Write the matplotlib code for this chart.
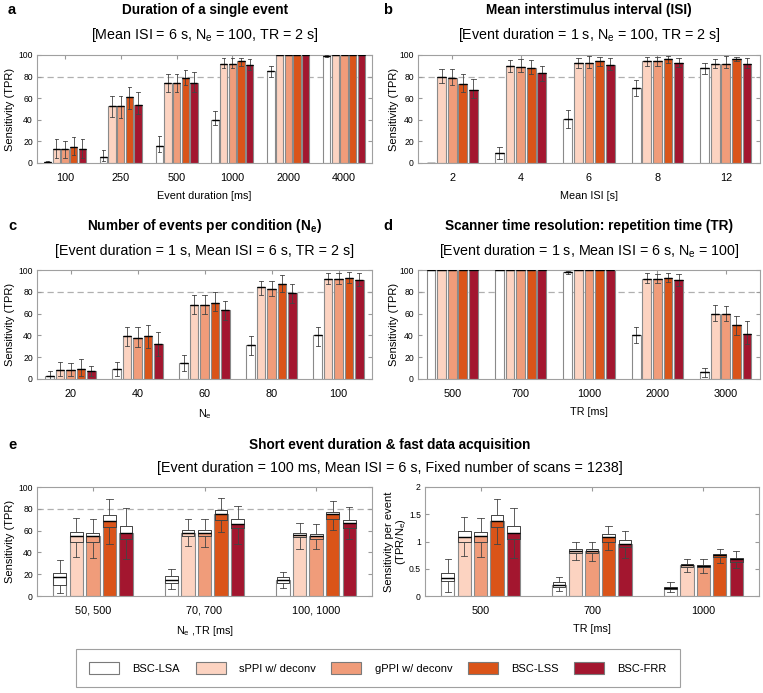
import matplotlib
matplotlib.use('Agg')
import matplotlib.pyplot as plt
from matplotlib.patches import Patch
import numpy as np

plt.rcParams['font.family'] = ['Liberation Sans', 'DejaVu Sans']

methods = ['BSC-LSA', 'sPPI w/ deconv', 'gPPI w/ deconv', 'BSC-LSS', 'BSC-FRR']
colors = ['#ffffff', '#fcd3c1', '#f09c7a', '#da5419', '#a3162f']

# a: event duration
dur_ticks = ['100', '250', '500', '1000', '2000', '4000']
dur_tpr = [[1, 13, 13, 15, 13], [6, 53, 53, 61, 54], [16, 74, 74, 79, 74],
           [40, 92, 92, 94, 91], [85, 100, 100, 100, 100], [99, 100, 100, 100, 100]]
dur_lo = [[0, 5, 5, 7, 5], [2, 43, 42, 50, 45], [10, 66, 66, 72, 66],
          [35, 88, 88, 90, 86], [80, 100, 100, 100, 100], [98, 100, 100, 100, 100]]
dur_hi = [[2, 22, 20, 24, 22], [12, 62, 62, 70, 66], [25, 82, 82, 86, 84],
          [48, 97, 97, 97, 96], [90, 100, 100, 100, 100], [100, 100, 100, 100, 100]]

# b: mean ISI
isi_ticks = ['2', '4', '6', '8', '12']
isi_tpr = [[0, 80, 79, 73, 68], [9, 90, 89, 88, 83], [41, 93, 93, 94, 91],
           [69, 94, 94, 96, 93], [88, 92, 92, 96, 92]]
isi_lo = [[0, 74, 72, 66, 60], [4, 84, 84, 82, 76], [32, 88, 88, 90, 86],
          [62, 90, 90, 93, 89], [82, 88, 88, 94, 88]]
isi_hi = [[0, 87, 87, 82, 78], [15, 95, 96, 95, 90], [49, 97, 99, 98, 97],
          [77, 98, 98, 99, 97], [93, 96, 99, 98, 97]]

# c: number of events
ne_ticks = ['20', '40', '60', '80', '100']
ne_tpr = [[3, 8, 8, 9, 7], [9, 39, 38, 39, 32], [15, 68, 68, 70, 63],
          [31, 84, 83, 87, 79], [40, 92, 92, 93, 91]]
ne_lo = [[0, 3, 3, 3, 3], [3, 30, 29, 28, 21], [7, 60, 60, 62, 54],
         [22, 77, 76, 80, 70], [30, 87, 87, 88, 85]]
ne_hi = [[7, 16, 15, 18, 12], [16, 48, 48, 50, 43], [22, 77, 77, 80, 72],
         [39, 90, 90, 95, 87], [48, 97, 97, 98, 97]]

# d: repetition time
tr_ticks = ['500', '700', '1000', '2000', '3000']
tr_tpr = [[100, 100, 100, 100, 100], [100, 100, 100, 100, 100], [98, 100, 100, 100, 100],
          [40, 92, 92, 93, 91], [6, 60, 60, 50, 41]]
tr_lo = [[100, 100, 100, 100, 100], [100, 100, 100, 100, 100], [96, 100, 100, 100, 100],
         [33, 88, 88, 89, 85], [2, 53, 53, 40, 32]]
tr_hi = [[100, 100, 100, 100, 100], [100, 100, 100, 100, 100], [99, 100, 100, 100, 100],
         [48, 97, 96, 97, 96], [10, 68, 67, 58, 53]]

# e: short events, fast acquisition
fast_ticks = ['50, 500', '70, 700', '100, 1000']
fast_tpr = [[17, 55, 55, 69, 58], [15, 58, 58, 75, 66], [15, 56, 55, 75, 67]]
fast_q1 = [[10, 50, 50, 63, 52], [12, 55, 55, 70, 62], [12, 54, 52, 71, 62]]
fast_q3 = [[21, 59, 58, 74, 64], [18, 61, 61, 79, 71], [17, 58, 57, 77, 70]]
fast_lo = [[3, 36, 35, 48, 34], [6, 46, 45, 59, 48], [7, 43, 43, 61, 52]]
fast_hi = [[33, 72, 71, 89, 81], [25, 71, 71, 90, 83], [22, 67, 66, 87, 82]]

per_ticks = ['500', '700', '1000']
per_tpr = [[0.33, 1.09, 1.10, 1.38, 1.16], [0.21, 0.83, 0.83, 1.08, 0.95],
           [0.15, 0.56, 0.55, 0.75, 0.67]]
per_q1 = [[0.27, 1.00, 1.00, 1.27, 1.05], [0.17, 0.79, 0.79, 1.00, 0.89],
          [0.12, 0.54, 0.53, 0.71, 0.62]]
per_q3 = [[0.42, 1.19, 1.18, 1.48, 1.28], [0.25, 0.87, 0.87, 1.13, 1.02],
          [0.17, 0.58, 0.57, 0.77, 0.70]]
per_lo = [[0.07, 0.73, 0.71, 0.95, 0.69], [0.09, 0.66, 0.65, 0.85, 0.69],
          [0.07, 0.44, 0.43, 0.61, 0.52]]
per_hi = [[0.67, 1.45, 1.43, 1.78, 1.62], [0.35, 1.00, 1.00, 1.28, 1.19],
          [0.25, 0.67, 0.67, 0.87, 0.82]]

W, H = 763, 693
fig = plt.figure(figsize=(W / 100, H / 100), dpi=100)


def box(x0, y0, x1, y1):
    return fig.add_axes([x0 / W, 1 - y1 / H, (x1 - x0) / W, (y1 - y0) / H])


def panel(ax, ticks, vals, lo, hi, q1=None, q3=None, ymax=100, yt=None,
          pitch=0.155, width=0.13, ref=80):
    vals = np.array(vals, float)
    lo, hi = np.array(lo, float), np.array(hi, float)
    q1 = vals if q1 is None else np.array(q1, float)
    q3 = vals if q3 is None else np.array(q3, float)
    n = len(ticks)
    for j in range(5):
        x = np.arange(n) + (j - 2) * pitch
        ax.bar(x, vals[:, j], width, color=colors[j], edgecolor='#8a8a8a',
               linewidth=0.8, zorder=2)
        stats = [dict(med=vals[i, j], q1=q1[i, j], q3=q3[i, j],
                      whislo=lo[i, j], whishi=hi[i, j], fliers=[]) for i in range(n)]
        ax.bxp(stats, positions=x, widths=width * 0.95, showfliers=False,
               manage_ticks=False, zorder=3,
               boxprops=dict(color='#444444', linewidth=0.7),
               medianprops=dict(color='black', linewidth=1.0),
               whiskerprops=dict(color='#444444', linewidth=0.6),
               capprops=dict(color='#444444', linewidth=0.6))
    if ref is not None:
        ax.axhline(ref, color='#b0b0b0', ls=(0, (5, 3)), lw=0.9, zorder=1)
    ax.set_xlim(-0.5, n - 0.5)
    ax.set_ylim(0, ymax)
    ax.set_xticks(np.arange(n))
    ax.set_xticklabels(ticks, fontsize=7.8)
    if yt is not None:
        ax.set_yticks(yt)
    ax.tick_params(axis='y', labelsize=6.2, length=3, direction='in',
                   right=True, color='#999999', pad=3)
    ax.tick_params(axis='x', length=3, direction='in', top=True,
                   color='#999999', pad=7)
    for s in ax.spines.values():
        s.set_color('#a0a0a0')
        s.set_linewidth(0.8)


def ylab(ax, text, xpix, x0, x1, size=8):
    # xpix: pixel column of the label's right side
    ax.set_ylabel(text, fontsize=size, linespacing=1.05)
    ax.yaxis.set_label_coords((xpix - x0) / (x1 - x0), 0.5)


def head(x, y, y2, letter, lx, title, sub):
    fig.text(lx / W, 1 - y / H, letter, fontsize=10.5, fontweight='bold', va='center')
    fig.text(x / W, 1 - y / H, title, fontsize=9.8, fontweight='bold',
             ha='center', va='center')
    fig.text(x / W, 1 - y2 / H, sub, fontsize=10.3, ha='center', va='center')


ax_a = box(37, 55, 372, 163)
panel(ax_a, dur_ticks, dur_tpr, dur_lo, dur_hi)
ax_a.set_xlabel('Event duration [ms]', fontsize=7.8, labelpad=6)
ylab(ax_a, 'Sensitivity (TPR)', 15, 37, 372)
head(205, 10, 35, 'a', 8, 'Duration of a single event',
     r'[Mean ISI = 6 s, N$_\mathregular{e}$ = 100, TR = 2 s]')

ax_b = box(418, 55, 760, 163)
panel(ax_b, isi_ticks, isi_tpr, isi_lo, isi_hi)
ax_b.set_xlabel('Mean ISI [s]', fontsize=7.8, labelpad=6)
ylab(ax_b, 'Sensitivity (TPR)', 399, 418, 760)
head(589, 10, 35, 'b', 383, 'Mean interstimulus interval (ISI)',
     r'[Event duration = 1 s, N$_\mathregular{e}$ = 100, TR = 2 s]')

ax_c = box(37, 270, 372, 379)
panel(ax_c, ne_ticks, ne_tpr, ne_lo, ne_hi)
ax_c.set_xlabel(r'N$_\mathregular{e}$', fontsize=7.8, labelpad=6)
ylab(ax_c, 'Sensitivity (TPR)', 15, 37, 372)
head(205, 226, 251, 'c', 8, r'Number of events per condition (N$_\mathregular{e}$)',
     '[Event duration = 1 s, Mean ISI = 6 s, TR = 2 s]')

ax_d = box(418, 270, 760, 379)
panel(ax_d, tr_ticks, tr_tpr, tr_lo, tr_hi)
ax_d.set_xlabel('TR [ms]', fontsize=7.8, labelpad=6)
ylab(ax_d, 'Sensitivity (TPR)', 399, 418, 760)
head(589, 226, 251, 'd', 383, 'Scanner time resolution: repetition time (TR)',
     r'[Event duration = 1 s, Mean ISI = 6 s, N$_\mathregular{e}$ = 100]')

ax_e1 = box(37, 487, 372, 596)
panel(ax_e1, fast_ticks, fast_tpr, fast_lo, fast_hi, fast_q1, fast_q3,
      pitch=0.148, width=0.12)
ax_e1.set_xlabel(r'N$_\mathregular{e}$ ,TR [ms]', fontsize=7.8, labelpad=6)
ylab(ax_e1, 'Sensitivity (TPR)', 15, 37, 372)

ax_e2 = box(425, 487, 759, 596)
panel(ax_e2, per_ticks, per_tpr, per_lo, per_hi, per_q1, per_q3, ymax=2,
      yt=[0, 0.5, 1, 1.5, 2], pitch=0.148, width=0.12, ref=None)
ax_e2.set_yticklabels(['0', '0.5', '1', '1.5', '2'])
ax_e2.set_xlabel('TR [ms]', fontsize=7.8, labelpad=6)
ylab(ax_e2, 'Sensitivity per event\n' + r'(TPR/N$_\mathregular{e}$)', 408, 425, 759)
head(390, 445, 468, 'e', 8, 'Short event duration & fast data acquisition',
     '[Event duration = 100 ms, Mean ISI = 6 s, Fixed number of scans = 1238]')

handles = [Patch(facecolor=c, edgecolor='#7a7a7a', linewidth=0.8) for c in colors]
leg = fig.legend(handles, methods, loc='upper center', ncol=5,
                 bbox_to_anchor=(378 / W, 1 - 649 / H), fontsize=8,
                 frameon=True, fancybox=False, edgecolor='#888888',
                 handlelength=2.7, handleheight=1.26, columnspacing=1.4,
                 handletextpad=1.2, borderpad=1.2, borderaxespad=0)
leg.get_frame().set_linewidth(0.8)

fig.savefig('out.png', dpi=100)
